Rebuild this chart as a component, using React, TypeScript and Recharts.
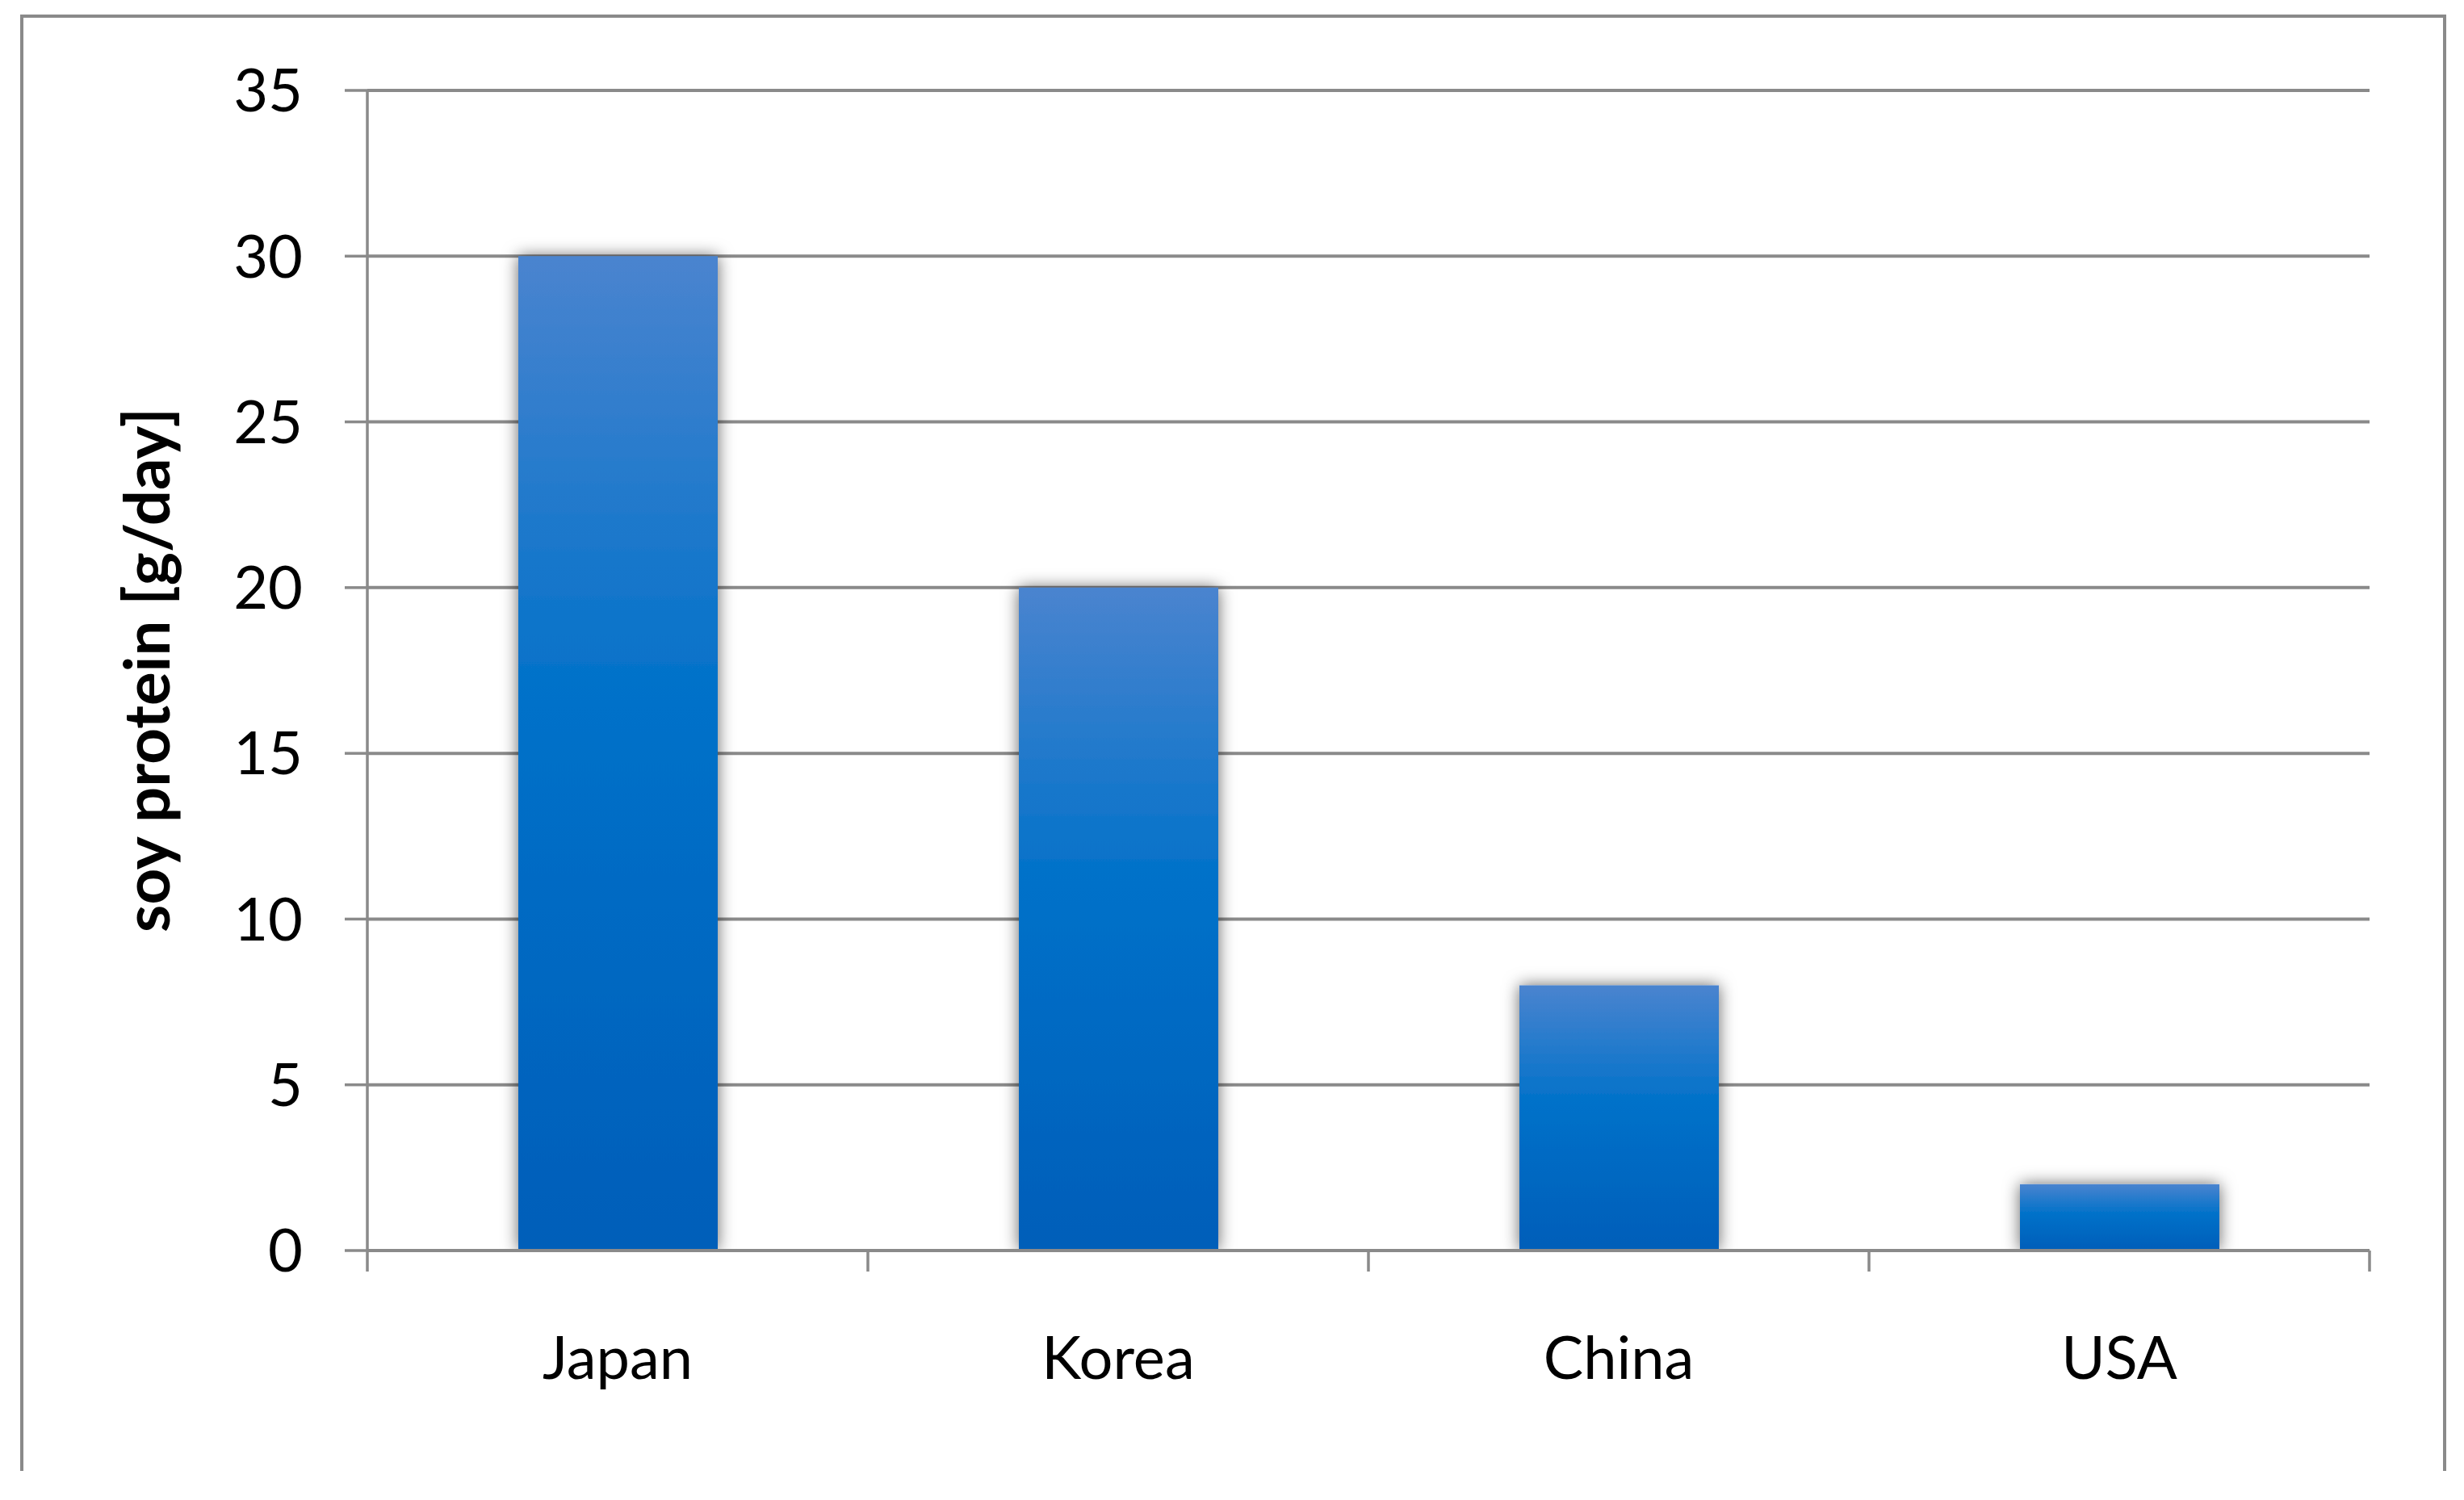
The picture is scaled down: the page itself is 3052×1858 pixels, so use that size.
import React from 'react';
import { BarChart, Bar, XAxis, YAxis, CartesianGrid } from 'recharts';

// soy protein intake per country
const countries = ['Japan', 'Korea', 'China', 'USA'];
const soyProtein = [30, 20, 8, 2];
const yTicks = [0, 5, 10, 15, 20, 25, 30, 35];

const data = countries.map((c, i) => ({ country: c, value: soyProtein[i] }));

const LINE = '#8a8a8a';
const FONT = 'Lato, "Open Sans", sans-serif';

// bar body with the excel-ish gradient + soft shadow
const ShadowBar = (props: any) => {
  const { x, y, width, height } = props;
  if (!height) return null;
  return (
    <rect
      x={x}
      y={y}
      width={width}
      height={height}
      fill="url(#barGrad)"
      filter="url(#barShadow)"
    />
  );
};

// category label + tick marks on the category boundaries (excel style)
const CategoryTick = (props: any) => {
  const { x, y, payload, index, visibleTicksCount, width } = props;
  const half =
    payload.offset || (width && visibleTicksCount ? width / visibleTicksCount / 2 : 0);
  const last = index === visibleTicksCount - 1;
  return (
    <g>
      <line x1={x - half} x2={x - half} y1={y} y2={y + 26} stroke={LINE} strokeWidth={3.5} />
      {last && (
        <line x1={x + half} x2={x + half} y1={y} y2={y + 26} stroke={LINE} strokeWidth={3.5} />
      )}
      <text
        x={x}
        y={y + 106}
        dy="0.71em"
        textAnchor="middle"
        fill="#000"
        fontSize={74}
        fontFamily={FONT}
      >
        {payload.value}
      </text>
    </g>
  );
};

export default function App() {
  return (
    <div
      style={{
        position: 'absolute',
        left: 0,
        top: 0,
        width: 3052,
        height: 1858,
        background: '#fff',
        overflow: 'hidden',
      }}
    >
      {/* outer chart frame, bottom edge cut off */}
      <div
        style={{
          position: 'absolute',
          left: 25,
          top: 18,
          width: 2997,
          height: 1800,
          borderTop: `4px solid ${LINE}`,
          borderLeft: `4px solid ${LINE}`,
          borderRight: `4px solid ${LINE}`,
        }}
      />
      <div style={{ position: 'absolute', left: 0, top: 0 }}>
        <BarChart
          width={3052}
          height={1858}
          data={data}
          margin={{ top: 112, right: 117, bottom: 308, left: 155 }}
          barSize={247}
        >
          <defs>
            <linearGradient id="barGrad" x1="0" y1="0" x2="0" y2="1">
              <stop offset="0%" stopColor="#4a84cf" />
              <stop offset="45%" stopColor="#0071c9" />
              <stop offset="100%" stopColor="#005eb9" />
            </linearGradient>
            <filter id="barShadow" x="-30%" y="-50%" width="160%" height="150%">
              <feDropShadow dx="0" dy="0" stdDeviation="10" floodColor="#000" floodOpacity="0.6" />
            </filter>
          </defs>
          <CartesianGrid vertical={false} stroke={LINE} strokeWidth={4} />
          <YAxis
            width={300}
            domain={[0, 35]}
            ticks={yTicks}
            interval={0}
            axisLine={{ stroke: LINE, strokeWidth: 3.5 }}
            tickLine={{ stroke: LINE, strokeWidth: 3.5 }}
            tickSize={28}
            tickMargin={52}
            tick={{ fill: '#000', fontSize: 74, fontFamily: FONT }}
          />
          <Bar dataKey="value" shape={<ShadowBar />} isAnimationActive={false} />
          <XAxis
            dataKey="country"
            height={1}
            axisLine={{ stroke: LINE, strokeWidth: 4 }}
            tickLine={false}
            tickSize={0}
            tickMargin={0}
            interval={0}
            tick={<CategoryTick />}
          />
        </BarChart>
      </div>
      <svg
        width={3052}
        height={1858}
        style={{ position: 'absolute', left: 0, top: 0, pointerEvents: 'none' }}
      >
        <text
          transform="translate(210, 830) rotate(-90)"
          textAnchor="middle"
          fontFamily={FONT}
          fontWeight="bold"
          fontSize={78}
          fill="#000"
        >
          soy protein [g/day]
        </text>
      </svg>
    </div>
  );
}
